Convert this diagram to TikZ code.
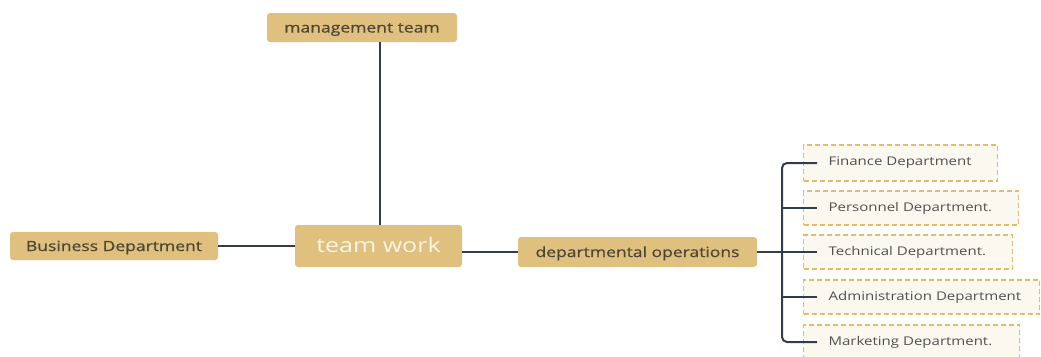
\documentclass[tikz,border=0pt]{standalone}
\usepackage{fontspec}
\setmainfont{Open Sans}[FakeStretch=1.25]
\newfontfamily\boldish{Open Sans}[FakeStretch=1.25,FakeBold=0.6]
\usetikzlibrary{calc}
\definecolor{boxfill}{HTML}{DFC07E}
\definecolor{childfill}{HTML}{FBF8F0}
\definecolor{childline}{HTML}{E2BC68}
\definecolor{linecol}{HTML}{2F3D4F}
\definecolor{maintext}{HTML}{4E4634}
\definecolor{childtext}{HTML}{505050}
\definecolor{creamtext}{HTML}{FCF5E6}
\tikzset{
  mainbox/.style={fill=boxfill, rounded corners=3pt, inner sep=0pt, text=maintext,
    font=\boldish\fontsize{14}{16}\selectfont, text depth=2pt, text height=12pt},
  centerbox/.style={mainbox, text=creamtext, font=\fontsize{20}{24}\selectfont, text depth=2.5pt, text height=15pt},
  childbox/.style={fill=childfill, draw=childline, dash pattern=on 5pt off 3pt, line width=1.2pt,
    anchor=west, inner xsep=0pt, inner ysep=0pt, align=left, text=childtext,
    font=\fontsize{12}{14}\selectfont},
  conn/.style={draw=linecol, line width=2.5pt},
  brconn/.style={draw=linecol, line width=2pt},
}
\begin{document}
\begin{tikzpicture}[x=1pt,y=-1pt]
\useasboundingbox (0,0) rectangle (1041,356);
% main nodes
\node[mainbox, minimum width=190pt, minimum height=29pt] (mgmt) at (362,27.5) {management team};
\node[centerbox, minimum width=167pt, minimum height=42pt] (tw) at (378.5,246) {team work};
\node[mainbox, minimum width=208pt, minimum height=28pt] (bus) at (114,246) {Business Department};
\node[mainbox, minimum width=239pt, minimum height=30pt] (ops) at (637.5,252) {departmental operations};
% child nodes
\node[childbox, minimum height=36pt, text width=194pt] (fin) at (803,163) {\hspace*{25pt}Finance Department};
\node[childbox, minimum height=34pt, text width=215pt] (per) at (803,208) {\hspace*{25pt}Personnel Department.};
\node[childbox, minimum height=34pt, text width=209pt] (tec) at (803,252) {\hspace*{25pt}Technical Department.};
\node[childbox, minimum height=34pt, text width=236pt] (adm) at (803,297) {\hspace*{25pt}Administration Department};
\node[childbox, minimum height=34pt, text width=216pt] (mkt) at (803,342) {\hspace*{25pt}Marketing Department.};
% connectors
\draw[conn] (mgmt.south -| 380,0) -- (tw.north -| 380,0);
\draw[conn] (bus.east) -- (bus.east -| tw.west);
\draw[conn] (tw.east |- ops.west) -- (ops.west);
\coordinate (brk) at (782,252);
\draw[conn] (ops.east) -- (brk);
\draw[brconn, rounded corners=5pt] ($(fin.west)+(14,0)$) -| (brk) |- ($(mkt.west)+(14,0)$);
\draw[brconn] (brk |- per.west) -- ($(per.west)+(14,0)$);
\draw[brconn] (brk |- tec.west) -- ($(tec.west)+(14,0)$);
\draw[brconn] (brk |- adm.west) -- ($(adm.west)+(14,0)$);
\end{tikzpicture}
\end{document}
